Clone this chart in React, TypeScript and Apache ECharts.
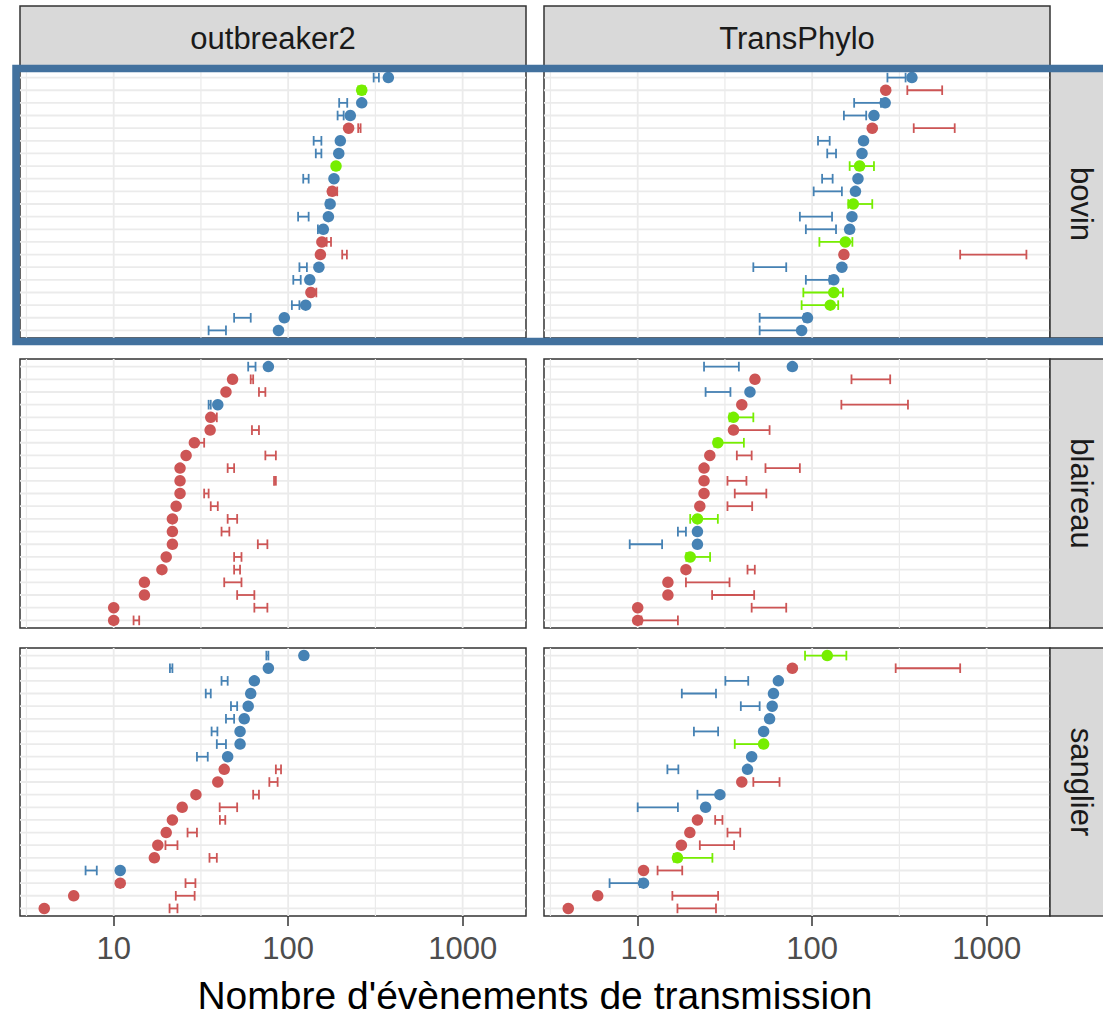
import React, { useEffect, useRef } from 'react';
import * as echarts from 'echarts';

// ---------- facets ----------
const methods = ['outbreaker2', 'TransPhylo'];
const hosts = ['bovin', 'blaireau', 'sanglier'];

// ---------- axis breaks ----------
const xTickValues = [10, 100, 1000];
const xMinorBreaks = [3.162, 31.62, 316.2];
const xLimits = [2.904, 2307];
const rowIndex = [1, 2, 3, 4, 5, 6, 7, 8, 9, 10, 11, 12, 13, 14, 15, 16, 17, 18, 19, 20, 21];

// ---------- groups / colours ----------
const groupColors: Record<string, string> = { B: '#4682B4', R: '#CD5555', G: '#76EE00' };

// ---------- data (rows listed top to bottom) ----------
// outbreaker2 / bovin
const obBovinGrp = ['B', 'G', 'B', 'B', 'R', 'B', 'B', 'G', 'B', 'R', 'B', 'B', 'B', 'R', 'R', 'B', 'B', 'R', 'B', 'B', 'B'];
const obBovinEst = [375, 264, 264, 227, 222, 199, 195, 188, 183, 179, 174, 170, 159, 156, 153, 150, 133, 135, 126, 95, 88];
const obBovinLo = [309, 252, 196, 192, 252, 140, 144, null, 122, 172, 166, 114, 148, 166, 204, 116, 107, 130, 105, 49, 35];
const obBovinHi = [331, 276, 218, 208, 260, 155, 155, null, 131, 191, 176, 131, 162, 176, 217, 128, 118, 145, 116, 61, 44];

// TransPhylo / bovin
const tpBovinGrp = ['B', 'R', 'B', 'B', 'R', 'B', 'B', 'G', 'B', 'B', 'G', 'B', 'B', 'G', 'R', 'B', 'B', 'G', 'G', 'B', 'B'];
const tpBovinEst = [373, 264, 262, 226, 221, 197, 193, 187, 183, 177, 172, 169, 164, 155, 152, 148, 133, 133, 127, 94, 87];
const tpBovinLo = [270, 351, 174, 152, 382, 108, 122, 164, 114, 102, 161, 85, 92, 110, 705, 46, 92, 89, 87, 50, 50];
const tpBovinHi = [343, 556, 248, 204, 656, 126, 137, 226, 131, 148, 221, 130, 137, 170, 1690, 71, 126, 150, 141, 90, 88];

// outbreaker2 / blaireau
const obBlaireauGrp = ['B', 'R', 'R', 'B', 'R', 'R', 'R', 'R', 'R', 'R', 'R', 'R', 'R', 'R', 'R', 'R', 'R', 'R', 'R', 'R', 'R'];
const obBlaireauEst = [77, 48, 44, 39.5, 36, 35.7, 29, 26, 24, 24, 24, 22.8, 21.7, 21.7, 21.7, 20, 18.9, 15, 15, 10, 10];
const obBlaireauLo = [59, 61, 68, 35, 35, 62, 30, 74, 45, 83, 33, 36, 45, 41.5, 67, 49, 49, 43, 51, 64, 13];
const obBlaireauHi = [65, 63, 74, 36, 39, 68, 33, 85, 49, 85, 35, 39.5, 51, 46, 76, 54, 53, 54, 64, 76, 14];

// TransPhylo / blaireau
const tpBlaireauGrp = ['B', 'R', 'B', 'R', 'G', 'R', 'G', 'R', 'R', 'R', 'R', 'R', 'G', 'B', 'B', 'G', 'R', 'R', 'R', 'R', 'R'];
const tpBlaireauEst = [77, 47, 44, 39.5, 35.4, 35.4, 28.8, 25.9, 24, 24, 24, 22.7, 22, 22, 22, 20, 18.9, 14.9, 14.9, 10, 10];
const tpBlaireauLo = [24, 168, 24.5, 147, 33.6, 36, 27.5, 37, 54, 32.7, 36, 32.7, 20, 17, 9, 19, 42.6, 18.9, 26.7, 45, 10.5];
const tpBlaireauHi = [38, 280, 34, 354, 46, 57, 40.6, 45, 85, 42, 54.6, 45.3, 28.8, 18.9, 13.8, 26, 46.9, 33.6, 46.5, 71, 17];

// outbreaker2 / sanglier
const obSanglierGrp = ['B', 'B', 'B', 'B', 'B', 'B', 'B', 'B', 'B', 'R', 'R', 'R', 'R', 'R', 'R', 'R', 'R', 'B', 'R', 'R', 'R'];
const obSanglierEst = [123, 77, 64, 61, 59, 56, 53, 53, 45, 43, 39.5, 29.6, 24.7, 21.7, 20, 17.9, 17.1, 10.9, 10.9, 5.9, 4];
const obSanglierLo = [75, 21, 41.5, 33.7, 47, 44, 36.4, 39, 30, 85, 78, 63, 40.5, 40.6, 26.5, 19.8, 35.4, 6.9, 25.8, 22.7, 20.9];
const obSanglierHi = [77, 21.7, 45, 36, 51, 49, 39.3, 44, 34.6, 91, 87, 68, 51, 43.6, 30, 23.2, 39, 8, 29.4, 29.1, 23.2];

// TransPhylo / sanglier
const tpSanglierGrp = ['G', 'R', 'B', 'B', 'B', 'B', 'B', 'G', 'B', 'B', 'R', 'B', 'B', 'R', 'R', 'R', 'G', 'R', 'B', 'R', 'R'];
const tpSanglierEst = [122, 77, 64, 60, 59, 57, 52.7, 52.7, 45, 42.6, 39.5, 29.6, 24.5, 22, 19.9, 17.8, 16.9, 10.8, 10.8, 5.9, 4];
const tpSanglierLo = [91, 301, 31.8, 17.9, 39, null, 21, 36, null, 14.8, 46, 22, 10, 27.8, 32.7, 22.7, 16.1, 13, 6.9, 15.8, 16.9];
const tpSanglierHi = [157, 705, 43, 28.1, 50, null, 28.9, 52.7, null, 17.1, 65, 29.2, 17, 30.6, 38.7, 35.7, 26.8, 18, 10.3, 28.9, 28.1];

// panels in reading order: row = host, col = method
const panelData = [
  { grp: obBovinGrp, est: obBovinEst, lo: obBovinLo, hi: obBovinHi },
  { grp: tpBovinGrp, est: tpBovinEst, lo: tpBovinLo, hi: tpBovinHi },
  { grp: obBlaireauGrp, est: obBlaireauEst, lo: obBlaireauLo, hi: obBlaireauHi },
  { grp: tpBlaireauGrp, est: tpBlaireauEst, lo: tpBlaireauLo, hi: tpBlaireauHi },
  { grp: obSanglierGrp, est: obSanglierEst, lo: obSanglierLo, hi: obSanglierHi },
  { grp: tpSanglierGrp, est: tpSanglierEst, lo: tpSanglierLo, hi: tpSanglierHi },
];

// ---------- layout ----------
const colLeft = [20, 544];
const colWidth = 506;
const rowTop = [70, 359, 648];
const rowHeight = [268, 269, 268];
const stripTop = 6;
const stripSize = 62;
const FONT = 'Liberation Sans, Arial, Helvetica, sans-serif';
const L = (v: number) => Math.log10(v);

function buildOption() {
  const nRows = rowIndex.length;
  const grids: any[] = [];
  const xAxes: any[] = [];
  const yAxes: any[] = [];
  const series: any[] = [];

  panelData.forEach((p, i) => {
    const r = Math.floor(i / 2);
    const c = i % 2;
    const bottom = r === 2;
    grids.push({
      left: colLeft[c], top: rowTop[r], width: colWidth, height: rowHeight[r],
      show: true, backgroundColor: '#FFFFFF', borderColor: '#333333', borderWidth: 1.5,
      containLabel: false, outerBoundsMode: 'none',
    });
    xAxes.push({
      type: 'value', gridIndex: i, min: L(xLimits[0]), max: L(xLimits[1]),
      axisLine: { show: false },
      splitLine: { show: false },
      axisTick: {
        show: bottom, customValues: xTickValues.map(L), length: 10,
        lineStyle: { color: '#333333', width: 1.5 },
      },
      axisLabel: {
        show: bottom, customValues: xTickValues.map(L), margin: 17,
        fontSize: 31, color: '#4D4D4D', fontFamily: FONT,
        formatter: (v: number) => String(Math.round(Math.pow(10, v))),
      },
    });
    yAxes.push({
      type: 'value', gridIndex: i, min: 0.4, max: nRows + 0.6, show: false,
      splitLine: { show: false },
    });

    // vertical grid lines
    const vLines = [...xTickValues.map((v) => [L(v), 1]), ...xMinorBreaks.map((v) => [L(v), 0])];
    series.push({
      type: 'custom', xAxisIndex: i, yAxisIndex: i, z: 1, silent: true,
      data: vLines, encode: { x: 0 },
      renderItem: (params: any, api: any) => {
        const cs = params.coordSys;
        const x = api.coord([api.value(0), 1])[0];
        return {
          type: 'line',
          shape: { x1: x, y1: cs.y, x2: x, y2: cs.y + cs.height },
          style: { stroke: '#EBEBEB', lineWidth: api.value(1) ? 1.8 : 1.2 },
        };
      },
    });
    // horizontal grid lines (one per row)
    series.push({
      type: 'custom', xAxisIndex: i, yAxisIndex: i, z: 1, silent: true,
      data: rowIndex.map((v) => [v]), encode: { y: 0 },
      renderItem: (params: any, api: any) => {
        const cs = params.coordSys;
        const y = api.coord([1, api.value(0)])[1];
        return {
          type: 'line',
          shape: { x1: cs.x, y1: y, x2: cs.x + cs.width, y2: y },
          style: { stroke: '#EBEBEB', lineWidth: 1.8 },
        };
      },
    });

    // error bars
    const ebData: any[] = [];
    p.est.forEach((_, k) => {
      const lo = p.lo[k];
      const hi = p.hi[k];
      if (lo == null || hi == null) return;
      ebData.push([L(lo), L(hi), nRows - k, ['B', 'R', 'G'].indexOf(p.grp[k])]);
    });
    series.push({
      type: 'custom', xAxisIndex: i, yAxisIndex: i, z: 3, silent: true,
      data: ebData, encode: { x: [0, 1], y: 2 },
      renderItem: (params: any, api: any) => {
        const y = api.value(2);
        const a = api.coord([api.value(0), y]);
        const b = api.coord([api.value(1), y]);
        const h = api.size([0, 0.38])[1];
        const color = groupColors[['B', 'R', 'G'][api.value(3)]];
        const st = { stroke: color, lineWidth: 1.8 };
        return {
          type: 'group',
          children: [
            { type: 'line', shape: { x1: a[0], y1: a[1], x2: b[0], y2: b[1] }, style: st },
            { type: 'line', shape: { x1: a[0], y1: a[1] - h, x2: a[0], y2: a[1] + h }, style: st },
            { type: 'line', shape: { x1: b[0], y1: b[1] - h, x2: b[0], y2: b[1] + h }, style: st },
          ],
        };
      },
    });

    // points
    series.push({
      type: 'scatter', xAxisIndex: i, yAxisIndex: i, z: 4, silent: true,
      symbol: 'circle', symbolSize: 11.5,
      data: p.est.map((v, k) => ({
        value: [L(v), nRows - k],
        itemStyle: { color: groupColors[p.grp[k]], opacity: 1 },
      })),
    });
  });

  const graphics: any[] = [];
  // top strips
  methods.forEach((m, c) => {
    graphics.push({
      type: 'rect', z: 5,
      shape: { x: colLeft[c], y: stripTop, width: colWidth, height: rowTop[0] - stripTop },
      style: { fill: '#D9D9D9', stroke: '#333333', lineWidth: 1.5 },
    });
    graphics.push({
      type: 'text', z: 6,
      x: colLeft[c] + colWidth / 2, y: (stripTop + rowTop[0]) / 2,
      style: { text: m, fontSize: 31, fontFamily: FONT, fill: '#1A1A1A', textAlign: 'center', textVerticalAlign: 'middle' },
    });
  });
  // right strips
  hosts.forEach((h, r) => {
    const x0 = colLeft[1] + colWidth;
    graphics.push({
      type: 'rect', z: 5,
      shape: { x: x0, y: rowTop[r], width: stripSize, height: rowHeight[r] },
      style: { fill: '#D9D9D9', stroke: '#333333', lineWidth: 1.5 },
    });
    graphics.push({
      type: 'text', z: 6,
      x: x0 + stripSize / 2, y: rowTop[r] + rowHeight[r] / 2,
      rotation: -Math.PI / 2,
      style: { text: h, fontSize: 31, fontFamily: FONT, fill: '#1A1A1A', textAlign: 'center', textVerticalAlign: 'middle' },
    });
  });
  // axis title
  graphics.push({
    type: 'text', z: 6,
    x: (colLeft[0] + colLeft[1] + colWidth) / 2, y: 995,
    style: {
      text: "Nombre d'évènements de transmission", fontSize: 39, fontFamily: FONT, fill: '#000000',
      textAlign: 'center', textVerticalAlign: 'middle',
    },
  });
  // highlight box around first row
  graphics.push({
    type: 'rect', z: 100, silent: true,
    shape: { x: 16, y: 68.5, width: 1110, height: 273 },
    style: { fill: 'none', stroke: '#42719E', lineWidth: 7.5 },
  });

  return {
    animation: false,
    backgroundColor: '#FFFFFF',
    textStyle: { fontFamily: FONT },
    grid: grids,
    xAxis: xAxes,
    yAxis: yAxes,
    series,
    graphic: { elements: graphics },
  };
}

export default function App() {
  const ref = useRef<HTMLDivElement>(null);
  useEffect(() => {
    document.body.style.margin = '0';
    if (!ref.current) return;
    const chart = echarts.init(ref.current, undefined, { renderer: 'svg' });
    chart.setOption(buildOption() as any);
    return () => chart.dispose();
  }, []);
  return <div ref={ref} style={{ width: 1103, height: 1015, position: 'absolute', left: 0, top: 0 }} />;
}
